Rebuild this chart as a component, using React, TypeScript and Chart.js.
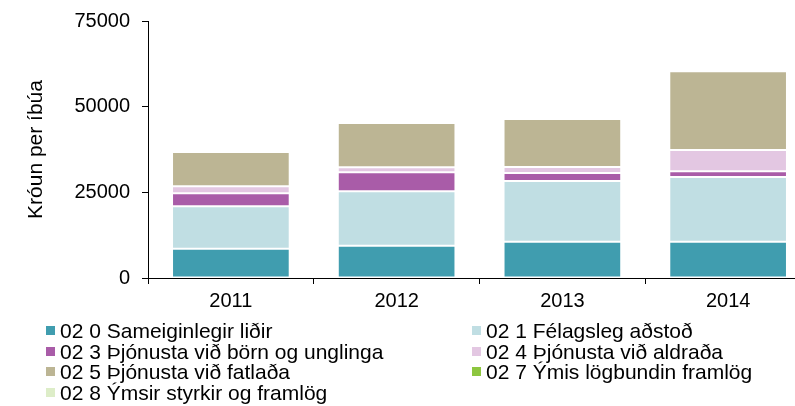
import React, { useEffect, useRef } from "react";
import { Chart, registerables } from "chart.js";

Chart.register(...registerables);

const years = ["2011", "2012", "2013", "2014"];
const seriesLabels = [
  "02 0 Sameiginlegir liðir",
  "02 1 Félagsleg aðstoð",
  "02 3 Þjónusta við börn og unglinga",
  "02 4 Þjónusta við aldraða",
  "02 5 Þjónusta við fatlaða",
  "02 7 Ýmis lögbundin framlög",
  "02 8 Ýmsir styrkir og framlög",
];
const s020 = [8550, 9430, 10600, 10600];
const s021 = [12370, 15860, 17700, 18870];
const s023 = [3800, 5550, 2340, 1660];
const s024 = [2030, 1450, 1750, 6220];
const s025 = [10020, 12940, 14010, 22960];
const s027 = [0, 0, 0, 0];
const s028 = [0, 0, 0, 0];
const seriesValues = [s020, s021, s023, s024, s025, s027, s028];
const seriesColors = ["#409DAF", "#C0DEE3", "#A95CA8", "#E3C7E2", "#BCB594", "#8DC63F", "#DDEDC8"];
const yTicks = [0, 25000, 50000, 75000];
const yTitle = "Króun per íbúa";

const FONT = "'Liberation Sans', Arial, sans-serif";

export default function App() {
  const ref = useRef<HTMLCanvasElement | null>(null);
  useEffect(() => {
    if (!ref.current) return;
    const chart = new Chart(ref.current, {
      type: "bar",
      data: {
        labels: years,
        datasets: seriesValues.map((v, i) => ({
          label: seriesLabels[i],
          data: v,
          backgroundColor: seriesColors[i],
          borderColor: "#FFFFFF",
          borderWidth: 1,
          borderSkipped: false,
          barPercentage: 0.71,
          categoryPercentage: 1,
        })),
      },
      options: {
        animation: false,
        responsive: false,
        maintainAspectRatio: false,
        layout: { padding: { top: 21, right: 24, bottom: 98, left: 0 } },
        plugins: { legend: { display: false }, tooltip: { enabled: false } },
        scales: {
          x: {
            stacked: true,
            grid: { drawOnChartArea: false, drawTicks: true, tickLength: 6, color: "#000", offset: true },
            border: { display: true, color: "#000", width: 1 },
            ticks: { color: "#000", font: { family: FONT, size: 20 }, padding: 5 },
            afterFit: (s: any) => { s.height = 30; },
          },
          y: {
            stacked: true,
            min: 0,
            max: 75000,
            afterBuildTicks: (s: any) => { s.ticks = yTicks.map((v) => ({ value: v })); },
            grid: { drawOnChartArea: false, drawTicks: true, tickLength: 6, color: "#000" },
            border: { display: true, color: "#000", width: 1 },
            ticks: { color: "#000", font: { family: FONT, size: 20, lineHeight: 0.8 }, padding: 12, callback: (v: any) => String(v) },
            title: { display: true, text: yTitle, color: "#000", font: { family: FONT, size: 21 }, padding: { top: 24, bottom: 0 } },
            afterFit: (s: any) => { s.width = 148; },
          },
        },
      },
    });
    return () => chart.destroy();
  }, []);

  const rowY = [320, 341, 361, 382];
  return (
    <div style={{ position: "fixed", left: 0, top: 0, width: 795, height: 406, overflow: "hidden", background: "#fff" }}>
      <canvas ref={ref} width={835} height={406} style={{ position: "absolute", left: 0, top: 0, width: 835, height: 406 }} />
      {seriesLabels.map((lab, i) => {
        const col = i % 2;
        const row = Math.floor(i / 2);
        const sx = col === 0 ? 46 : 472;
        return (
          <div key={lab} style={{ position: "absolute", left: sx, top: rowY[row], height: 21, display: "flex", alignItems: "center", fontFamily: FONT, fontSize: 21, color: "#000", whiteSpace: "nowrap", lineHeight: "21px" }}>
            <span style={{ display: "inline-block", width: 9, height: 9, background: seriesColors[i], marginRight: 5 }} />
            <span>{lab}</span>
          </div>
        );
      })}
    </div>
  );
}
